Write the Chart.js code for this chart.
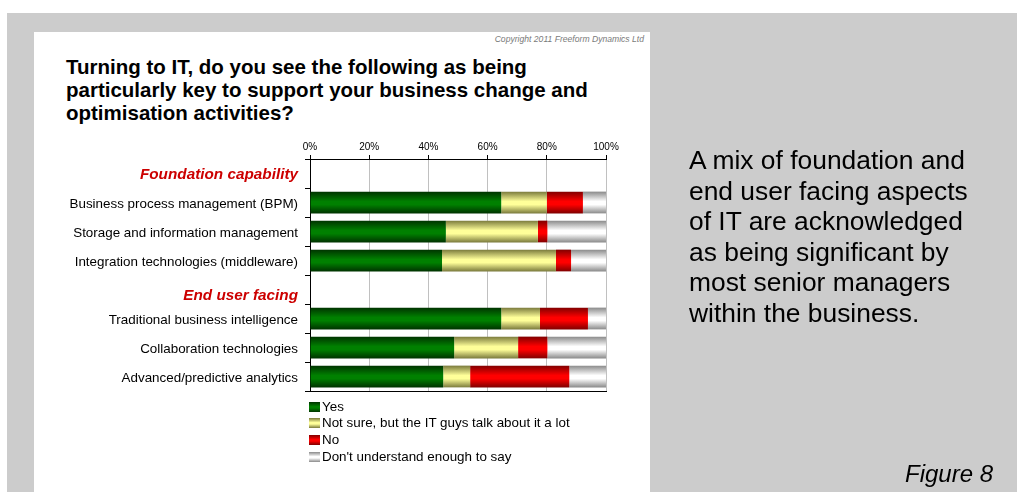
<!DOCTYPE html>
<html>
<head>
<meta charset="utf-8">
<script src="https://cdn.jsdelivr.net/npm/chart.js@4.4.1/dist/chart.umd.min.js"></script>
<style>
  html, body { margin: 0; padding: 0; background: #ffffff; }
  body { width: 1017px; height: 502px; position: relative; overflow: hidden;
         font-family: "Liberation Sans", Arial, Helvetica, sans-serif; }
  .backdrop { position: absolute; left: 7px; top: 13px; width: 1010px; height: 479px; background: #cccccc; }
  .panel { position: absolute; left: 34px; top: 32px; width: 616px; height: 460px; background: #ffffff; }
  .copyright { position: absolute; right: 373px; top: 34px; font-size: 8.6px; font-style: italic; color: #7a7a7a; white-space: nowrap; }
  .title { position: absolute; left: 66px; top: 55px; font-size: 20.5px; line-height: 23px; font-weight: bold; color: #000; white-space: nowrap; }
  #chart { position: absolute; left: 0; top: 0; }
  .legend { position: absolute; left: 309px; top: 398.5px; margin: 0; padding: 0; list-style: none; font-size: 13.4px; color: #000; }
  .legend li { height: 16.7px; line-height: 16.7px; white-space: nowrap; }
  .legend .box { display: inline-block; width: 11px; height: 10px; margin-right: 2px; vertical-align: -1px; }
  .summary { position: absolute; left: 689px; top: 145px; font-size: 26.4px; line-height: 30.5px; color: #000; white-space: nowrap; }
  .figure { position: absolute; left: 905px; top: 462px; font-size: 24px; line-height: 24px; font-style: italic; color: #000; white-space: nowrap; }
</style>
</head>
<body>
<div class="backdrop"></div>
<div class="panel"></div>
<div class="copyright">Copyright 2011 Freeform Dynamics Ltd</div>
<div class="title">Turning to IT, do you see the following as being<br>particularly key to support your business change and<br>optimisation activities?</div>
<canvas id="chart" width="1017" height="502"></canvas>
<ul class="legend" id="legend"></ul>
<div class="summary">A mix of foundation and<br>end user facing aspects<br>of IT are acknowledged<br>as being significant by<br>most senior managers<br>within the business.</div>
<div class="figure">Figure 8</div>

<script>
// Row labels; the two group headings carry no bars
const categories = [
  'Foundation capability',
  'Business process management (BPM)',
  'Storage and information management',
  'Integration technologies (middleware)',
  'End user facing',
  'Traditional business intelligence',
  'Collaboration technologies',
  'Advanced/predictive analytics'
];
const headingRows = [0, 4];

const seriesNames = [
  'Yes',
  'Not sure, but the IT guys talk about it a lot',
  'No',
  "Don't understand enough to say"
];

// Percent of respondents per answer
const yesValues      = [null, 64.6, 45.9, 44.6, null, 64.6, 48.7, 45.0];
const notSureValues  = [null, 15.4, 31.1, 38.5, null, 13.1, 21.6,  9.1];
const noValues       = [null, 12.2,  3.2,  5.1, null, 16.2,  9.9, 33.5];
const unsureValues   = [null,  7.8, 19.8, 11.8, null,  6.1, 19.8, 12.4];

const axisTicks = [0, 20, 40, 60, 80, 100];

// Edge / centre shades for the shaded bar fills
const shades = [
  { dark: '#003300', bright: '#008000' },
  { dark: '#7a7a3c', bright: '#ffff99' },
  { dark: '#800000', bright: '#ff0000' },
  { dark: '#8a8a8a', bright: '#ffffff' }
];

const BAR_FRACTION = 0.75;

function shadedFill(shade) {
  return function (ctx) {
    const chart = ctx.chart;
    const yScale = chart.scales && chart.scales.y;
    if (ctx.type !== 'data' || !yScale || !chart.chartArea) return shade.bright;
    const centre = yScale.getPixelForValue(ctx.dataIndex);
    const thick = (yScale.height / categories.length) * BAR_FRACTION;
    const top = centre - thick / 2;
    const g = chart.ctx.createLinearGradient(0, top, 0, top + thick);
    g.addColorStop(0, shade.dark);
    g.addColorStop(0.45, shade.bright);
    g.addColorStop(0.6, shade.bright);
    g.addColorStop(1, shade.dark);
    return g;
  };
}

const seriesValues = [yesValues, notSureValues, noValues, unsureValues];

Chart.defaults.font.family = '"Liberation Sans", Arial, Helvetica, sans-serif';
Chart.defaults.color = '#000';

const chart = new Chart(document.getElementById('chart'), {
  type: 'bar',
  data: {
    labels: categories,
    datasets: seriesNames.map((name, i) => ({
      label: name,
      data: seriesValues[i],
      backgroundColor: shadedFill(shades[i]),
      borderWidth: 0,
      barPercentage: BAR_FRACTION,
      categoryPercentage: 1
    }))
  },
  options: {
    indexAxis: 'y',
    responsive: false,
    animation: false,
    layout: { padding: { left: 0, right: 411, top: 0, bottom: 111 } },
    plugins: {
      legend: { display: false },
      tooltip: { enabled: false }
    },
    scales: {
      x: {
        type: 'linear',
        position: 'top',
        stacked: true,
        min: 0,
        max: 100,
        afterBuildTicks: (s) => { s.ticks = axisTicks.map(v => ({ value: v })); },
        ticks: {
          callback: (v) => v + '%',
          font: { size: 10 },
          color: '#000',
          padding: 2,
          maxRotation: 0
        },
        grid: { color: '#c0c0c0', tickColor: '#000', tickLength: 4, lineWidth: 1 },
        border: { color: '#000', width: 1 },
        afterFit: (s) => { s.height = 159; }
      },
      xBase: {
        type: 'linear',
        position: 'bottom',
        min: 0,
        max: 100,
        grid: { display: false, drawTicks: false },
        ticks: { display: false },
        border: { color: '#000', width: 1 },
        afterFit: (s) => { s.height = 0; }
      },
      y: {
        type: 'category',
        stacked: true,
        grid: { drawOnChartArea: false, offset: true, tickLength: 5, tickColor: '#000' },
        border: { color: '#000', width: 1 },
        ticks: {
          autoSkip: false,
          padding: 7,
          callback: function (value, index) {
            const text = categories[index];
            return index === 4 ? ['', text] : ['', text];
          },
          color: (ctx) => headingRows.includes(ctx.index) ? '#cc0000' : '#000',
          font: (ctx) => {
            if (ctx.index === 4) return { size: 15.3, weight: 'bold', style: 'italic', lineHeight: 0.8 };
            if (ctx.index === 0) return { size: 15.3, weight: 'bold', style: 'italic', lineHeight: 0.15 };
            return { size: 13.4, lineHeight: 0.2 };
          }
        },
        afterFit: (s) => { s.width = 310; }
      }
    }
  }
});

// Legend list built from the chart's datasets
const legendEl = document.getElementById('legend');
chart.data.datasets.forEach((ds, i) => {
  const li = document.createElement('li');
  const box = document.createElement('span');
  box.className = 'box';
  const s = shades[i];
  box.style.background = 'linear-gradient(to bottom, ' + s.dark + ' 0%, ' + s.bright + ' 45%, ' + s.bright + ' 60%, ' + s.dark + ' 100%)';
  li.appendChild(box);
  li.appendChild(document.createTextNode(ds.label));
  legendEl.appendChild(li);
});
</script>
</body>
</html>
